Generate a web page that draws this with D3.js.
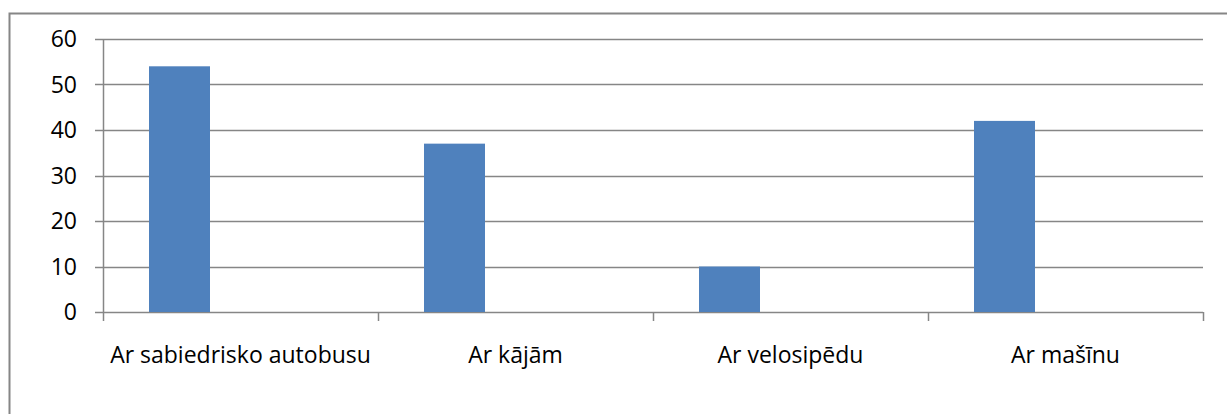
<!DOCTYPE html>
<html>
<head>
<meta charset="utf-8">
<script src="https://cdn.jsdelivr.net/npm/d3@7"></script>
<style>
  body { margin: 0; background: #fff; }
  text { font-family: "Open Sans", "Noto Sans", sans-serif; fill: #000; }
</style>
</head>
<body>
<script>
  // chart data
  var categories = ["Ar sabiedrisko autobusu", "Ar kājām", "Ar velosipēdu", "Ar mašīnu"];
  var values = [54, 37, 10, 42];
  var yTicks = [0, 10, 20, 30, 40, 50, 60];

  var W = 1227, H = 414;
  var margin = {top: 39, left: 103, right: 24, bottom: 102};
  var width = W - margin.left - margin.right,
      height = H - margin.top - margin.bottom;

  var svg = d3.select("body").append("svg")
    .attr("width", W)
    .attr("height", H);

  // outer frame (continues past right and bottom edges)
  svg.append("path")
    .attr("d", "M9.5," + (H + 5) + "V13.5H" + (W + 5))
    .attr("fill", "none")
    .attr("stroke", "#868686")
    .attr("stroke-width", 2);

  var g = svg.append("g")
    .attr("transform", "translate(" + margin.left + "," + margin.top + ")");

  var x = d3.scaleBand()
    .domain(categories)
    .range([0, width]);

  var y = d3.scaleLinear()
    .domain([0, 60])
    .range([height, 0]);

  // gridlines
  g.selectAll(".grid")
    .data(yTicks)
    .enter().append("line")
    .attr("x1", -8)
    .attr("x2", width)
    .attr("y1", function(d) { return Math.round(y(d)) + 0.5; })
    .attr("y2", function(d) { return Math.round(y(d)) + 0.5; })
    .attr("stroke", "#868686")
    .attr("stroke-width", 1.5);

  // y labels
  g.selectAll(".ylab")
    .data(yTicks)
    .enter().append("text")
    .attr("x", -26)
    .attr("y", function(d) { return y(d); })
    .attr("dy", "0.35em")
    .attr("text-anchor", "end")
    .style("font-size", "23px")
    .text(function(d) { return d; });

  // y axis line
  g.append("line")
    .attr("x1", 0.5).attr("x2", 0.5)
    .attr("y1", 0).attr("y2", height)
    .attr("stroke", "#868686")
    .attr("stroke-width", 1.5);

  // category tick marks
  var edges = categories.map(function(c) { return x(c); }).concat([width]);
  g.selectAll(".xtick")
    .data(edges)
    .enter().append("line")
    .attr("x1", function(d) { return Math.round(d) + 0.5; })
    .attr("x2", function(d) { return Math.round(d) + 0.5; })
    .attr("y1", height)
    .attr("y2", height + 9)
    .attr("stroke", "#868686")
    .attr("stroke-width", 1.5);

  // bars - first of three series slots in each category
  var slot = x.bandwidth() * 61 / 275;
  var gap = (x.bandwidth() - 3 * slot) / 2;
  g.selectAll(".bar")
    .data(values)
    .enter().append("rect")
    .attr("x", function(d, i) { return x(categories[i]) + gap; })
    .attr("y", function(d) { return y(d); })
    .attr("width", slot)
    .attr("height", function(d) { return height - y(d); })
    .attr("fill", "#4F81BD");

  // category labels
  g.selectAll(".xlab")
    .data(categories)
    .enter().append("text")
    .attr("x", function(d) { return x(d) + x.bandwidth() / 2; })
    .attr("y", height + 51)
    .attr("text-anchor", "middle")
    .style("font-size", "23px")
    .text(function(d) { return d; });
</script>
</body>
</html>
